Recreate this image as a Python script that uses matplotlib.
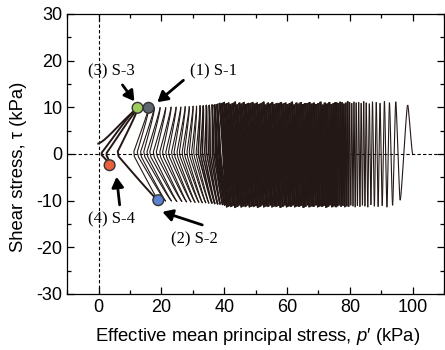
import numpy as np
import matplotlib
matplotlib.use("Agg")
import matplotlib.pyplot as plt
from matplotlib.ticker import MultipleLocator

# ---- data ----
# start of the test
p_start, tau_start = 100.0, 0.0

# right (sparse) part: p' at the top / bottom turning points of each cycle
p_top_right = [98.4, 94.6, 92.6, 91.0, 89.6, 88.4, 87.2, 86.2, 85.2, 84.4, 83.6, 82.8,
               82.0, 81.3, 80.6, 79.9, 79.3, 78.7, 78.1, 77.5, 76.9, 76.4, 75.9, 75.4]
p_bot_right = [96.0, 93.6, 91.8, 90.3, 89.0, 87.8, 86.7, 85.7, 84.8, 84.0, 83.2, 82.4,
               81.7, 81.0, 80.3, 79.6, 79.0, 78.4, 77.8, 77.2, 76.6, 76.1, 75.6, 75.1]
tau_top_right = [10.5, 11.2, 11.0, 11.3, 10.9, 11.1, 11.2, 10.8, 11.0, 11.3, 10.9, 11.1,
                 11.0, 11.2, 10.9, 11.1, 11.3, 11.0, 10.8, 11.1, 11.2, 10.9, 11.0, 11.1]
tau_bot_right = [-9.9, -11.0, -11.4, -11.1, -11.3, -11.2, -10.9, -11.4, -11.2, -11.0, -11.3, -11.1,
                 -11.4, -11.2, -11.0, -11.3, -11.2, -11.4, -11.1, -11.3, -11.0, -11.2, -11.4, -11.1]

# dense middle block
p_top_dense = [74.8, 74.1, 73.4, 72.7, 72.0, 71.3, 70.6, 69.9, 69.2, 68.5,
               67.8, 67.1, 66.4, 65.7, 65.0, 64.3, 63.6, 62.9, 62.2, 61.5,
               60.8, 60.1, 59.4, 58.7, 58.0, 57.3, 56.6, 55.9, 55.2, 54.5,
               53.8, 53.1, 52.4, 51.7, 51.0, 50.3, 49.6, 48.9, 48.2, 47.5,
               46.8, 46.1, 45.4, 44.7, 44.0, 43.3, 42.6, 41.9, 41.2, 40.5,
               39.8, 39.1, 38.4]
p_bot_dense = [75.1, 74.4, 73.8, 73.1, 72.5, 71.8, 71.2, 70.5, 69.9, 69.2,
               68.5, 67.9, 67.2, 66.6, 65.9, 65.3, 64.6, 63.9, 63.3, 62.6,
               62.0, 61.3, 60.7, 60.0, 59.4, 58.7, 58.0, 57.4, 56.7, 56.1,
               55.4, 54.8, 54.1, 53.5, 52.8, 52.1, 51.5, 50.8, 50.2, 49.5,
               48.9, 48.2, 47.5, 46.9, 46.2, 45.6, 44.9, 44.3, 43.6, 43.0,
               42.3, 41.6, 41.0]
jag_top = [10.9, 10.7, 11.1, 10.8, 11.0, 10.6, 11.2, 10.9, 10.7, 11.0, 10.8, 11.1, 10.9]
jag_bot = [-11.2, -11.4, -11.0, -11.3, -11.5, -11.1, -11.3, -11.2, -11.4, -11.0, -11.3]

# left (sparse) part approaching liquefaction
p_top_left = [37.6, 36.8, 36.0, 35.1, 34.2, 33.2, 32.2, 31.1, 30.0, 28.8, 27.5, 26.1,
              24.6, 23.0, 21.3, 19.5, 17.7, 15.9]
p_bot_left = [40.3, 39.6, 38.8, 38.0, 37.1, 36.2, 35.2, 34.2, 33.1, 32.0, 30.8, 29.5,
              28.1, 26.6, 25.0, 23.3, 21.4, 19.0]
tau_top_left = [10.7, 10.6, 10.6, 10.5, 10.5, 10.4, 10.4, 10.3, 10.3, 10.2, 10.2, 10.1,
                10.1, 10.1, 10.0, 10.0, 10.0, 9.9]
tau_bot_left = [-11.0, -10.9, -10.8, -10.8, -10.7, -10.6, -10.6, -10.5, -10.5, -10.4, -10.4, -10.3,
                -10.3, -10.2, -10.2, -10.1, -10.1, -9.9]
bulge_up_left = [-0.5, -0.8, -1.1, -1.4, -1.7, -2.1, -2.5, -2.9, -3.3, -3.7, -4.1, -4.5,
                 -4.9, -5.3, -5.7, -6.1, -6.3, -6.5]
bulge_dn_left = [-0.6, -0.9, -1.2, -1.5, -1.9, -2.3, -2.7, -3.1, -3.5, -3.9, -4.3, -4.7,
                 -5.1, -5.5, -5.9, -6.2, -6.4, -6.5]

# last turning points (after S-2)
p_tail = [12.4, 3.5, 12.9, -0.4]
tau_tail = [9.9, -2.4, 9.7, 2.2]
bulge_tail = [-10.0, -5.0, -3.5, 0.0]

# specimen points
spec_names = ["(1) S-1", "(2) S-2", "(3) S-3", "(4) S-4"]
spec_p = [15.9, 19.0, 12.4, 3.5]
spec_tau = [9.9, -9.9, 9.9, -2.4]
spec_colors = ["#5d666e", "#5b82d0", "#9dcb5c", "#ea5f3c"]


def half_cycle(p_a, t_a, p_b, t_b, bulge, n=30):
    s = np.linspace(0.0, 1.0, n)
    c = (1 - np.cos(np.pi * s)) / 2
    tau = t_a + (t_b - t_a) * c
    p = p_a + (p_b - p_a) * (0.5 * s + 0.5 * c)
    if bulge != 0 and t_a * t_b < 0:
        w = np.where(np.sign(tau) == np.sign(t_a), 1 - tau / t_a, 1 - tau / t_b)
        p = p + bulge * w
    return p, tau


def turning_points(tops_p, tops_t, bots_p, bots_t, b_up, b_dn):
    pts = []
    for k in range(len(tops_p)):
        pts.append((tops_p[k], tops_t[k], b_up[k]))
        pts.append((bots_p[k], bots_t[k], b_dn[k]))
    return pts


def build_turning_points():
    n_r = len(p_top_right)
    n_d = len(p_top_dense)
    pts = [(p_start, tau_start, 0.0)]
    pts += turning_points(p_top_right, tau_top_right, p_bot_right, tau_bot_right,
                          [0.0] * n_r, [0.0] * n_r)
    pts += turning_points(p_top_dense, list(np.resize(jag_top, n_d)),
                          p_bot_dense, list(np.resize(jag_bot, n_d)),
                          [0.0] * n_d, [0.0] * n_d)
    pts += turning_points(p_top_left, tau_top_left, p_bot_left, tau_bot_left,
                          bulge_up_left, bulge_dn_left)
    n_main = len(pts)
    pts += list(zip(p_tail, tau_tail, bulge_tail))
    return pts, n_main


def line_width(p_mid):
    # the plotted cycles pile up into a solid band between ~38 and ~75 kPa
    if 38.0 <= p_mid <= 75.5:
        return 1.6
    if 34.0 <= p_mid < 38.0 or 75.5 < p_mid <= 80.0:
        return 1.15
    return 0.8


def main():
    plt.rcParams["font.family"] = "Liberation Sans"
    plt.rcParams["mathtext.fontset"] = "custom"
    plt.rcParams["mathtext.it"] = "Liberation Sans:italic"
    plt.rcParams["mathtext.rm"] = "Liberation Sans"
    plt.rcParams["axes.unicode_minus"] = False

    fig = plt.figure(figsize=(4.45, 3.5), dpi=100)
    ax = fig.add_axes([0.151, 0.16, 0.847, 0.8])

    ax.axhline(0, color="black", lw=0.8, ls=(0, (3, 2)), zorder=1)
    ax.axvline(0, color="black", lw=0.8, ls=(0, (3, 2)), zorder=1)

    pts, n_main = build_turning_points()
    for i in range(1, len(pts)):
        a, b = pts[i - 1], pts[i]
        p, t = half_cycle(a[0], a[1], b[0], b[1], b[2])
        lw = line_width(0.5 * (a[0] + b[0])) if i < n_main else 1.4
        ax.plot(p, t, color="#231815", lw=lw, zorder=2, solid_capstyle="butt")

    ax.scatter(spec_p, spec_tau, s=60, c=spec_colors, edgecolors="#333333",
               linewidths=1.0, zorder=5)

    serif = dict(family="Liberation Serif", fontsize=12)
    arrow = dict(arrowstyle="-|>,head_length=0.6,head_width=0.35", color="black",
                 lw=2.0, shrinkA=0, shrinkB=0)
    ax.annotate("", xy=(18.7, 11.1), xytext=(27.0, 15.8), arrowprops=arrow, zorder=6)
    ax.text(29.0, 17.6, spec_names[0], ha="left", va="center", **serif)
    ax.annotate("", xy=(20.3, -12.4), xytext=(33.0, -15.2), arrowprops=arrow, zorder=6)
    ax.text(30.5, -18.4, spec_names[1], ha="center", va="center", **serif)
    ax.annotate("", xy=(11.4, 11.3), xytext=(7.6, 14.8), arrowprops=arrow, zorder=6)
    ax.text(4.1, 17.6, spec_names[2], ha="center", va="center", **serif)
    ax.annotate("", xy=(5.7, -4.9), xytext=(6.7, -10.9), arrowprops=arrow, zorder=6)
    ax.text(4.1, -14.1, spec_names[3], ha="center", va="center", **serif)

    ax.set_xlim(-10, 110)
    ax.set_ylim(-30, 30)
    ax.xaxis.set_major_locator(MultipleLocator(20))
    ax.xaxis.set_minor_locator(MultipleLocator(10))
    ax.yaxis.set_major_locator(MultipleLocator(10))
    ax.yaxis.set_minor_locator(MultipleLocator(5))
    ax.tick_params(which="both", direction="in", top=True, right=True, labelsize=13, width=0.9)
    ax.tick_params(which="major", length=5)
    ax.tick_params(which="minor", length=3)
    for sp in ax.spines.values():
        sp.set_linewidth(0.9)

    ax.set_xlabel("Effective mean principal stress, $p$\u2032 (kPa)", fontsize=13.3)
    ax.set_ylabel("Shear stress, \u03c4 (kPa)", fontsize=13.3)
    ax.xaxis.set_label_coords(0.505, -0.113)
    ax.yaxis.set_label_coords(-0.107, 0.454)

    fig.savefig("out.png", dpi=100)


if __name__ == "__main__":
    main()
